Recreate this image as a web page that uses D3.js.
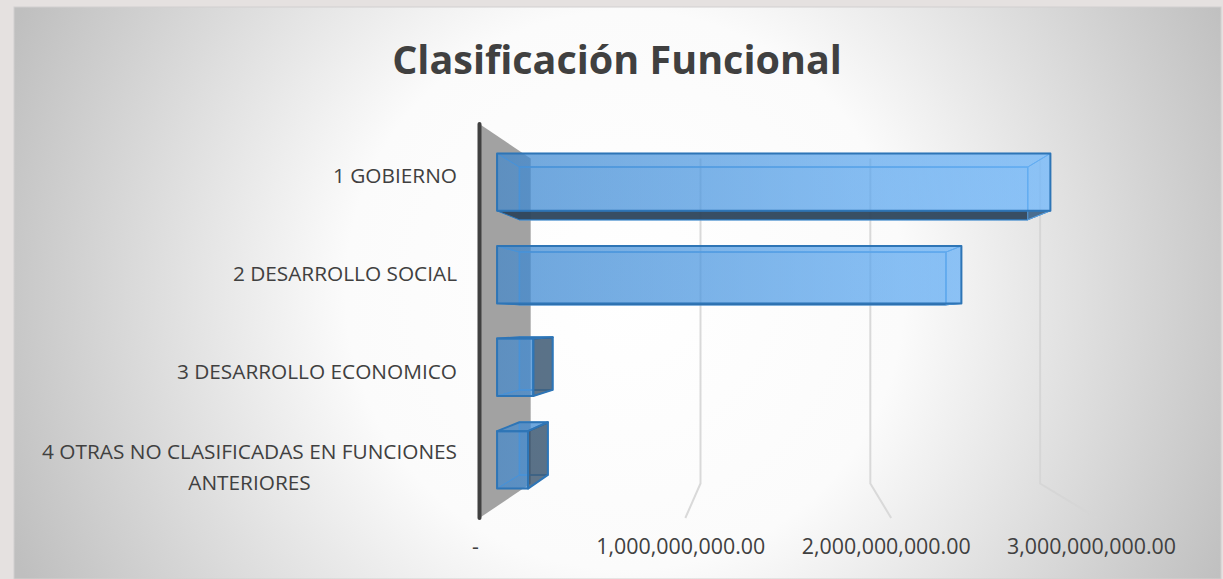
<!DOCTYPE html>
<html>
<head>
<meta charset="utf-8">
<script src="https://cdn.jsdelivr.net/npm/d3@7"></script>
<style>
  html, body { margin: 0; padding: 0; background: #e5e1e0; overflow: hidden; }
  text { font-family: "Open Sans", sans-serif; fill: #404040; }
</style>
</head>
<body>
<div id="app"></div>
<script>
const categories = ["1 GOBIERNO", "2 DESARROLLO SOCIAL", "3 DESARROLLO ECONOMICO", "4 OTRAS NO CLASIFICADAS EN FUNCIONES ANTERIORES"];
const values = [2860000000, 2400000000, 187000000, 160000000];
const tickValues = [0, 1000000000, 2000000000, 3000000000];
const tickLabels = ["-", "1,000,000,000.00", "2,000,000,000.00", "3,000,000,000.00"];
const chartTitle = "Clasificación Funcional";

const full = { width: 1223, height: 579 };
const panel = { left: 14, top: 7, right: 1221, bottom: 579 };
const vanish = { x: 772, y: 321 };   // the 3d view converges here

// depths: 0 is the front of the floor, 1 is the wall at the back
const zBarFront = 0.343, zBarBack = 0.78;
const depth = d3.scaleLinear().domain([0, 1]).range([1, 0.825]);
const x = d3.scaleLinear().domain([0, 3000000000]).range([-292.5, 325]);
const y = d3.scaleBand().domain(categories).range([-197, 197]).paddingInner(0.38).paddingOuter(0.19);

const project = (wx, wy, z) => [vanish.x + wx * depth(z), vanish.y + wy * depth(z)];
const poly = pts => "M" + pts.map(p => p.join(",")).join("L") + "Z";

const svg = d3.select("#app").append("svg")
  .attr("width", full.width)
  .attr("height", full.height)
  .style("display", "block");

const defs = svg.append("defs");
const bg = defs.append("radialGradient").attr("id", "bg")
  .attr("gradientUnits", "userSpaceOnUse")
  .attr("cx", 625).attr("cy", 290).attr("r", 665);
bg.append("stop").attr("offset", "0").attr("stop-color", "#ffffff");
bg.append("stop").attr("offset", "0.42").attr("stop-color", "#fbfbfb");
bg.append("stop").attr("offset", "1").attr("stop-color", "#bfbfbf");

const barFill = defs.append("linearGradient").attr("id", "barFill")
  .attr("gradientUnits", "userSpaceOnUse")
  .attr("x1", project(x(0), 0, zBarFront)[0]).attr("x2", project(x(3000000000), 0, zBarFront)[0])
  .attr("y1", 0).attr("y2", 0);
barFill.append("stop").attr("offset", "0").attr("stop-color", "#3b86cf");
barFill.append("stop").attr("offset", "1").attr("stop-color", "#6db8ff");

svg.append("rect")
  .attr("x", panel.left).attr("y", panel.top)
  .attr("width", panel.right - panel.left).attr("height", panel.bottom - panel.top)
  .attr("fill", "url(#bg)")
  .attr("stroke", "#d2d0cf");

svg.append("text")
  .attr("x", 617).attr("y", 74)
  .attr("text-anchor", "middle")
  .style("font-size", "39.5px").style("font-weight", 700)
  .text(chartTitle);

// wall at value 0
const [yTop, yBottom] = y.range();
svg.append("path")
  .attr("d", poly([project(x(0), yTop, 0), project(x(0), yTop, 1), project(x(0), yBottom, 1), project(x(0), yBottom, 0)]))
  .attr("fill", "#a2a2a2");

// gridlines, up the back wall then forward over the floor
svg.selectAll(".grid")
  .data(tickValues.slice(1))
  .join("path")
  .attr("class", "grid")
  .attr("d", d => "M" + [project(x(d), yTop, 1), project(x(d), yBottom, 1), project(x(d), yBottom, 0)].map(p => p.join(",")).join("L"))
  .attr("fill", "none")
  .attr("stroke", (d, i) => i == 2 ? "#d6d6d6" : "#d9d9d9")
  .attr("stroke-width", 2);

svg.append("line")
  .attr("x1", project(x(0), yTop, 0)[0]).attr("y1", project(x(0), yTop, 0)[1])
  .attr("x2", project(x(0), yBottom, 0)[0]).attr("y2", project(x(0), yBottom, 0)[1])
  .attr("stroke", "#404040").attr("stroke-width", 4).attr("stroke-linecap", "round");

// one box per category, back faces first
const bars = svg.selectAll(".bar")
  .data(categories.map((c, i) => ({ cat: c, value: values[i] })))
  .join("g")
  .attr("class", "bar");

bars.each(function(d) {
  const g = d3.select(this);
  const x0 = x(0), x1 = x(d.value), y0 = y(d.cat), y1 = y0 + y.bandwidth();
  const p = project;
  const edge = "#5ba2e2";
  const face = (pts, fill, opacity, stroke, sw) => g.append("path")
    .attr("d", poly(pts))
    .attr("fill", fill).attr("fill-opacity", opacity)
    .attr("stroke", stroke).attr("stroke-width", sw).attr("stroke-linejoin", "round");

  const zf = zBarFront, zb = zBarBack;
  face([p(x0, y0, zb), p(x1, y0, zb), p(x1, y1, zb), p(x0, y1, zb)], "url(#barFill)", 0.35, edge, 1.5);

  const topFace = [p(x0, y0, zf), p(x1, y0, zf), p(x1, y0, zb), p(x0, y0, zb)];
  const botFace = [p(x0, y1, zf), p(x1, y1, zf), p(x1, y1, zb), p(x0, y1, zb)];
  const leftFace = [p(x0, y0, zf), p(x0, y1, zf), p(x0, y1, zb), p(x0, y0, zb)];
  const rightFace = [p(x1, y0, zf), p(x1, y1, zf), p(x1, y1, zb), p(x1, y0, zb)];

  // sides turned away from the view centre are seen from outside, so they go dark
  const dark = "#2c4257", soft = "url(#barFill)";
  face(leftFace, soft, 0.15, edge, 1);
  face(topFace, soft, y0 > 0 ? 0.6 : 0.3, y0 > 0 ? "#2e75b6" : edge, y0 > 0 ? 2 : 1);
  if (y1 <= 0) face(botFace, dark, 0.92, "#2e75b6", 1);
  else face(botFace, soft, 0.25, edge, 1);
  if (x1 <= 0) face(rightFace, dark, 0.68, "#2e75b6", 2);
  else face(rightFace, soft, 0.3, edge, 1);

  face([p(x0, y0, zf), p(x1, y0, zf), p(x1, y1, zf), p(x0, y1, zf)], "url(#barFill)", 0.6, "#2e75b6", 2);
});

// axes
const xAxisScale = d3.scaleLinear()
  .domain(x.domain())
  .range([475, 1091]);

const xAxis = svg.append("g")
  .attr("transform", "translate(0,533)")
  .call(d3.axisBottom(xAxisScale).tickValues(tickValues).tickSize(0)
    .tickFormat((d, i) => tickLabels[i]));
xAxis.select(".domain").remove();
xAxis.selectAll("text").style("font-size", "21.4px").attr("y", 6).attr("dy", "0.71em").attr("fill", null);

const catScale = d3.scaleBand().domain(categories).range([127, 520]);
const yAxis = svg.append("g")
  .attr("transform", "translate(457,0)")
  .call(d3.axisLeft(catScale).tickSize(0).tickPadding(0));
yAxis.select(".domain").remove();
yAxis.selectAll("text").style("font-size", "20.8px").attr("fill", null).each(function(d) {
  const t = d3.select(this);
  const maxWidth = 430;
  if (this.getComputedTextLength() <= maxWidth && d.length < 40) return;
  const words = d.split(" ");
  const second = words.pop();
  t.text(null).attr("text-anchor", "middle").attr("dy", null);
  const a = t.append("tspan").attr("dy", "-0.55em").text(words.join(" "));
  const w = a.node().getComputedTextLength();
  a.attr("x", -w / 2);
  t.append("tspan").attr("x", -w / 2).attr("dy", "1.45em").text(second);
});
</script>
</body>
</html>
